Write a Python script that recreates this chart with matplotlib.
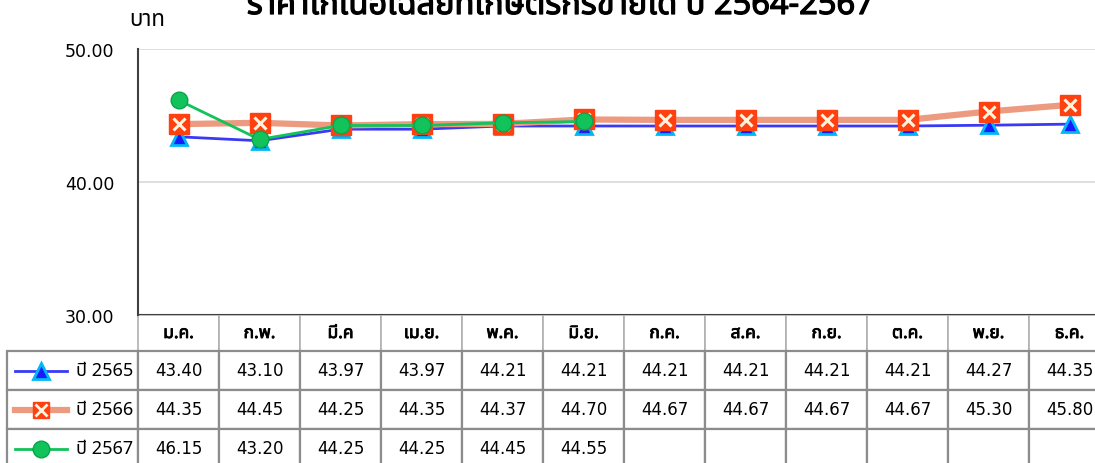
import matplotlib
matplotlib.use("Agg")
import matplotlib.pyplot as plt
import matplotlib.patheffects as pe
from matplotlib import font_manager
from matplotlib.ft2font import FT2Font
from matplotlib.lines import Line2D

# months and yearly prices (baht / kg)
months = ["ม.ค.", "ก.พ.", "มี.ค", "เม.ย.", "พ.ค.", "มิ.ย.", "ก.ค.", "ส.ค.", "ก.ย.", "ต.ค.", "พ.ย.", "ธ.ค."]
years = ["ปี 2565", "ปี 2566", "ปี 2567"]
price_2565 = [43.40, 43.10, 43.97, 43.97, 44.21, 44.21, 44.21, 44.21, 44.21, 44.21, 44.27, 44.35]
price_2566 = [44.35, 44.45, 44.25, 44.35, 44.37, 44.70, 44.67, 44.67, 44.67, 44.67, 45.30, 45.80]
price_2567 = [46.15, 43.20, 44.25, 44.25, 44.45, 44.55]


def find_thai_font():
    # look for any installed font that has thai glyphs
    found = []
    for f in font_manager.fontManager.ttflist:
        try:
            if 0x0E01 in FT2Font(f.fname).get_charmap():
                found.append(f.name)
        except Exception:
            pass
    for pref in ["Tahoma", "Noto Sans Thai", "Noto Sans Thai UI", "Loma", "Garuda", "Sarabun"]:
        if pref in found:
            return pref
    return found[0] if found else None


thai = find_thai_font()
plt.rcParams["font.family"] = [thai, "DejaVu Sans"] if thai else ["DejaVu Sans"]
num_font = "DejaVu Sans"  # digits look closer to the original's Tahoma
fake_bold = [pe.withStroke(linewidth=0.9, foreground="black")]

W, H = 1095, 464
fig = plt.figure(figsize=(W / 100, H / 100), dpi=100)
# plot area: x 138..1110 px, y 50..316 px (runs past right edge like the original)
ax_l, ax_r, ax_t, ax_b = 138, 1110, 50, 316
ax = fig.add_axes([ax_l / W, 1 - ax_b / H, (ax_r - ax_l) / W, (ax_b - ax_t) / H])

x = list(range(len(months)))
ax.plot(x, price_2565, color="#3a3af5", lw=2, zorder=3,
        marker="^", ms=11, mfc="#1a1aff", mec="#00b8f5", mew=2)
ax.plot(x, price_2566, color="#ec9a80", lw=4.5, zorder=4,
        marker="s", ms=14, mfc="#ff4010", mec="#ff4010", solid_capstyle="round")
ax.plot(x, price_2566, ls="none", zorder=5, marker="x", ms=9, mec="#fff3dc", mew=2.2)
ax.plot(x[:len(price_2567)], price_2567, color="#12c25a", lw=2, zorder=6,
        marker="o", ms=12, mfc="#12c25a", mec="#0aa54a", mew=1)

ax.set_xlim(-0.5, len(months) - 0.5)
ax.set_ylim(30, 50)
ax.set_yticks([30, 40, 50])
ax.set_yticklabels(["%.2f" % v for v in [30, 40, 50]], fontsize=12.5, fontfamily=num_font)
ax.set_xticks([])
ax.tick_params(axis="y", length=0, pad=17)
ax.grid(axis="y", color="#d9d9d9", lw=1.2)
ax.set_axisbelow(True)
for s in ["top", "right", "bottom"]:
    ax.spines[s].set_visible(False)
ax.spines["left"].set_color("#404040")
ax.spines["left"].set_linewidth(1.5)
ax.axhline(30, color="#404040", lw=1.5, zorder=2)

# data table under the plot
leg_w = ax_l - 7
col_w = (ax_r - ax_l) / len(months)
head_h, row_h = 36, 39
tab_h = head_h + 3 * row_h
cells = []
for name, vals in zip(years, [price_2565, price_2566, price_2567]):
    cells.append([name] + ["%.2f" % v for v in vals] + [""] * (len(months) - len(vals)))
tab = ax.table(cellText=cells, colLabels=[""] + months,
               colWidths=[leg_w] + [col_w] * len(months),
               bbox=[-leg_w / (ax_r - ax_l), -tab_h / (ax_b - ax_t),
                     (ax_r - ax_l + leg_w) / (ax_r - ax_l), tab_h / (ax_b - ax_t)],
               cellLoc="center")
tab.auto_set_font_size(False)
for (r, c), cell in tab.get_celld().items():
    cell.set_edgecolor("#8c8c8c")
    cell.set_linewidth(1.6)
    txt = cell.get_text()
    txt.set_fontsize(12)
    if r == 0:
        cell.set_height(head_h)
        txt.set_fontsize(12.5)
        txt.set_path_effects([pe.withStroke(linewidth=0.6, foreground="black")])
        cell.set_edgecolor("#b0b0b0")
        cell.set_linewidth(1.2)
        if c == 0:
            cell.visible_edges = ""
    else:
        cell.set_height(row_h)
        if c == 0:
            txt.set_fontsize(13)
            txt.set_ha("right")
            cell._loc = "right"
            cell.PAD = 0.04
        else:
            txt.set_fontfamily(num_font)

# legend keys in the first table column
key_styles = [
    dict(color="#3a3af5", lw=2, marker="^", ms=11, mfc="#1a1aff", mec="#00b8f5", mew=2),
    dict(color="#ec9a80", lw=4.5, marker="s", ms=12, mfc="#ff4010", mec="#ff4010"),
    dict(color="#12c25a", lw=2, marker="o", ms=12, mfc="#12c25a", mec="#0aa54a", mew=1),
]
for i, st in enumerate(key_styles):
    yc = 1 - (ax_b + head_h + row_h * (i + 0.5)) / H
    fig.add_artist(Line2D([15 / W, 67 / W], [yc, yc], **st, markevery=[], transform=fig.transFigure))
    fig.add_artist(Line2D([41 / W], [yc], **st, transform=fig.transFigure))
    if i == 1:
        fig.add_artist(Line2D([41 / W], [yc], ls="none", marker="x", ms=8, mec="#fff3dc", mew=2,
                              transform=fig.transFigure))

fig.text(560 / W, 1 - 15 / H, "ราคาไก่เนื้อเฉลี่ยที่เกษตรกรขายได้ ปี 2564-2567",
         ha="center", va="baseline", fontsize=23.5, path_effects=fake_bold)
fig.text(147 / W, 1 - 20 / H, "บาท", ha="center", va="center", fontsize=16)

fig.savefig("out.png", dpi=100)
